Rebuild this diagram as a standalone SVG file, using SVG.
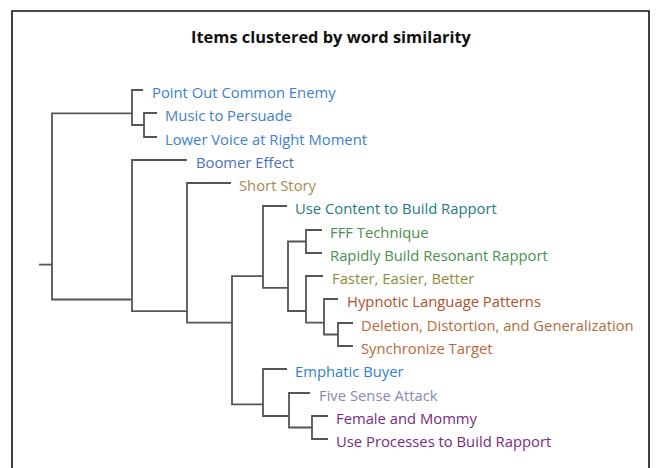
<svg xmlns="http://www.w3.org/2000/svg" width="662" height="468" viewBox="0 0 662 468">
<style>
  .lbl { font-family: "Open Sans", "Noto Sans", "Liberation Sans", sans-serif; font-size: 14.8px; }
  .title { font-family: "Open Sans", "Noto Sans", "Liberation Sans", sans-serif; font-size: 16.4px; font-weight: bold; fill: #111; }
  .br { fill: none; stroke: #555555; stroke-width: 1.8; }
</style>
<rect x="0" y="0" width="662" height="468" fill="#ffffff"/>
<path d="M12 475 V11 H649 V475" fill="none" stroke="#111" stroke-width="1.6"/>
<text class="title" x="331" y="43" text-anchor="middle">Items clustered by word similarity</text>

<g id="connectors" class="br">
  <path d="M39 264.6 H52"/>
  <path d="M132 113.3 H52 V299.5 H132"/>
  <path d="M143 90 H132 V125 H144"/>
  <path d="M157 113 H144 V137 H157"/>
  <path d="M187 160 H132 V311.1 H187"/>
  <path d="M231 183 H187 V322.7 H232"/>
  <path d="M263 276.1 H232 V404.3 H263"/>
  <path d="M287 206 H263 V287.8 H288"/>
  <path d="M306 241.5 H288 V311 H306"/>
  <path d="M322 230 H306 V253 H322"/>
  <path d="M323 276 H306 V322.7 H324"/>
  <path d="M338 299 H324 V334.5 H338"/>
  <path d="M353 323 H338 V346 H353"/>
  <path d="M287 369 H263 V416 H289"/>
  <path d="M310 393 H289 V427.5 H312"/>
  <path d="M328 416 H312 V439 H328"/>
</g>

<g id="n-point-out" class="lbl" fill="#3d7fc9"><text x="152" y="98">Point Out Common Enemy</text></g>
<g id="n-music" class="lbl" fill="#3d7fc9"><text x="165" y="121">Music to Persuade</text></g>
<g id="n-lower-voice" class="lbl" fill="#3d7fc9"><text x="165" y="145">Lower Voice at Right Moment</text></g>
<g id="n-boomer" class="lbl" fill="#4b6fc0"><text x="196" y="168">Boomer Effect</text></g>
<g id="n-short-story" class="lbl" fill="#a8884e"><text x="239" y="191">Short Story</text></g>
<g id="n-use-content" class="lbl" fill="#1e7d7a"><text x="295" y="214">Use Content to Build Rapport</text></g>
<g id="n-fff" class="lbl" fill="#4a8f4e"><text x="330" y="238">FFF Technique</text></g>
<g id="n-rapidly" class="lbl" fill="#4a8f4e"><text x="330" y="261">Rapidly Build Resonant Rapport</text></g>
<g id="n-faster" class="lbl" fill="#8b8b3c"><text x="332" y="284">Faster, Easier, Better</text></g>
<g id="n-hypnotic" class="lbl" fill="#b2502c"><text x="347" y="307">Hypnotic Language Patterns</text></g>
<g id="n-deletion" class="lbl" fill="#b86a3c"><text x="361" y="331">Deletion, Distortion, and Generalization</text></g>
<g id="n-synchronize" class="lbl" fill="#b86a3c"><text x="361" y="354">Synchronize Target</text></g>
<g id="n-emphatic" class="lbl" fill="#2f7fc4"><text x="295" y="377">Emphatic Buyer</text></g>
<g id="n-five-sense" class="lbl" fill="#8a88b0"><text x="319" y="401">Five Sense Attack</text></g>
<g id="n-female" class="lbl" fill="#7a2a80"><text x="336" y="424">Female and Mommy</text></g>
<g id="n-use-processes" class="lbl" fill="#7a2a80"><text x="336" y="447">Use Processes to Build Rapport</text></g>
</svg>
